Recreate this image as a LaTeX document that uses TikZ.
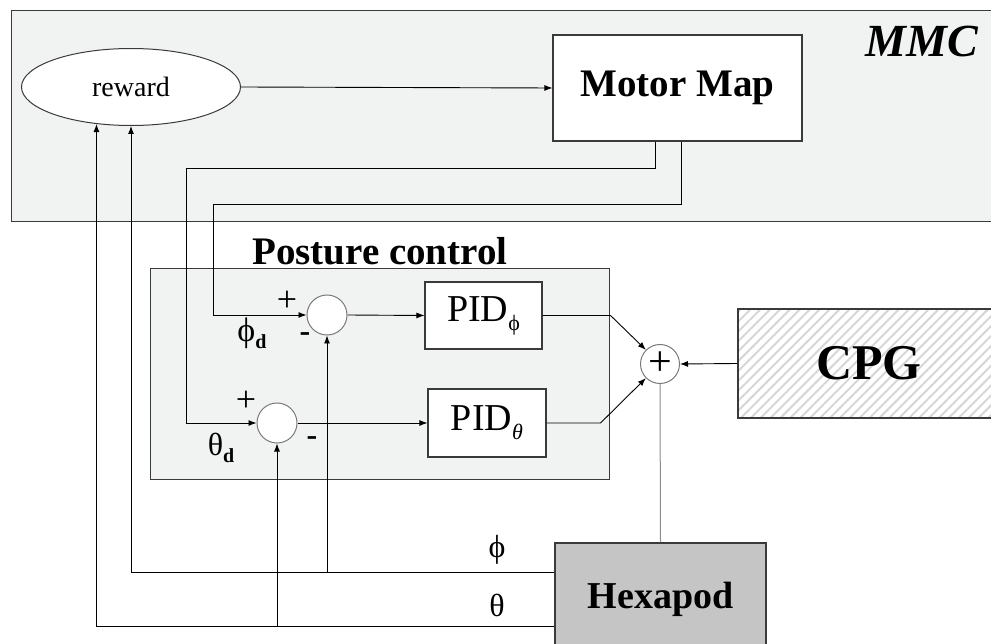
\documentclass[tikz,border=0pt]{standalone}
\usepackage{fontspec}
\setmainfont{Liberation Serif}
\usetikzlibrary{arrows.meta,positioning,calc,patterns.meta,shapes.geometric}
\definecolor{panel}{HTML}{F1F2F2}
\definecolor{edge}{HTML}{3A3A3A}
\definecolor{ring}{HTML}{7A7A7A}
\definecolor{robot}{HTML}{C4C5C4}
\definecolor{hatch}{HTML}{D6D6D6}
\definecolor{feed}{HTML}{8C8C8C}
\newcommand{\fs}[1]{\fontsize{#1}{#1}\selectfont}

\begin{document}
\begin{tikzpicture}[x=1pt,y=-1pt,
  >={Latex[length=8pt,width=6pt]},
  arrow/.style={->,line width=0.9pt,draw=black},
  wire/.style={line width=0.9pt,draw=black},
  group/.style={draw=edge,fill=panel,line width=1.1pt,inner sep=0pt,anchor=north west},
  block/.style={draw=edge,fill=white,line width=1.1pt,inner sep=0pt},
  junction/.style={circle,draw=ring,fill=white,line width=1pt,minimum size=40pt,inner sep=0pt},
  sign/.style={font=\fs{36}},
  minus/.style={font=\bfseries\fs{32}},
  heading/.style={font=\bfseries\fs{39}}
]
\clip (0,0) rectangle (991,644);

% MMC layer
\node[group,minimum width=989,minimum height=211] (mmc) at (11,10) {};
\node[font=\bfseries\itshape\fs{46}] (mmctitle) at (922,41) {MMC};
\node[ellipse,draw=edge,fill=white,line width=1pt,minimum width=219,minimum height=77,
      inner sep=0pt,font=\fs{28}] (reward) at (131,87) {reward};
\node[block,minimum width=249,minimum height=106,heading] (mm) at (677.5,88) {Motor Map};

% Posture control
\node[group,minimum width=459,minimum height=211] (pc) at (150,268) {};
\node[heading,anchor=base] (pctitle) at (380,265) {Posture control};
\node[junction] (c1) at (327,315) {};
\node[junction] (c2) at (277,423) {};
\node[block,minimum width=117,minimum height=67] (pidphi) at (483.5,315.5)
  {\fs{38}PID\raisebox{-9pt}{\fs{22}ϕ}};
\node[block,minimum width=118,minimum height=68] (pidth) at (487,423)
  {\fs{38}PID\raisebox{-9pt}{\fs{22}\itshape θ}};

% Signs and set points
\node[sign] (p1) at (287,301) {+};
\node[minus] (m1) at (305,337) {-};
\node (phid) at (252,333) {\fs{34}ϕ\raisebox{-7pt}{\fs{20}\bfseries d}};
\node[sign] (p2) at (246,401) {+};
\node[minus] (m2) at (312,441) {-};
\node (thd) at (221,448) {\fs{32}θ\raisebox{-7pt}{\fs{20}\bfseries d}};

% Summation, CPG, robot
\node[junction,minimum size=39pt,font=\fs{42}] (sum) at (660,364) {+};
\node[draw=edge,line width=1.1pt,minimum width=262,minimum height=109,inner sep=0pt,
      pattern={Lines[angle=45,distance=7pt,line width=2pt]},pattern color=hatch,
      font=\bfseries\fs{50}] (cpg) at (869,363.5) {CPG};
\node[draw=edge,fill=robot,line width=1.1pt,minimum width=211,minimum height=112,
      inner sep=0pt,font=\bfseries\fs{38}] (hex) at (660.5,599) {Hexapod};
\node[font=\fs{32}] (philab) at (497,550) {ϕ};
\node[font=\fs{32}] (thlab) at (497,605) {θ};

% Arrows
\draw[arrow] (reward.east) -- (mm.west);
\draw[arrow] ([xshift=-22.5pt]mm.south) -- ++(0,27) -| (186,423) -- (c2.west);
\draw[arrow] ([xshift=3.5pt]mm.south) -- ++(0,63) -| (213,315) -- (c1.west);
\draw[arrow] (c1.east) -- (pidphi.west);
\draw[arrow] (c2.east) -- (pidth.west);
\draw[arrow] (pidphi.east) -- ++(68,0) -- (sum.135);
\draw[arrow] (pidth.east) -- ++(54,0) -- (sum.225);
\draw[arrow] (cpg.west) -- (sum.east);
\draw[line width=1pt,draw=feed] (sum.south) -- (hex.north);

% Feedback
\coordinate (phiout) at ([yshift=27pt]hex.west);
\coordinate (thout) at ([yshift=-27pt]hex.west);
\draw[arrow] (phiout) -| (reward.south);
\draw[arrow] (thout) -| (reward.227);
\draw[arrow] (c1.south |- phiout) -- (c1.south);
\draw[arrow] (c2.south |- thout) -- (c2.south);

\end{tikzpicture}
\end{document}
